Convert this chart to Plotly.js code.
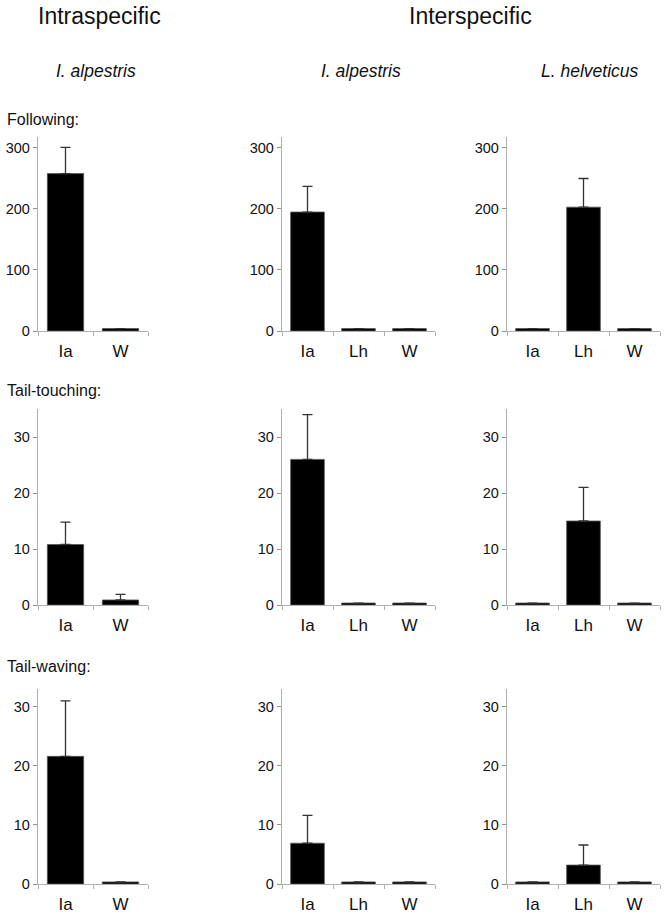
<!DOCTYPE html>
<html>
<head>
<meta charset="utf-8">
<script src="https://cdn.plot.ly/plotly-3.0.1.min.js"></script>
<style>html,body{margin:0;padding:0;background:#fff;} #chart{width:668px;height:915px;}</style>
</head>
<body>
<div id="chart"></div>
<script>
// ---- data ----
const catsIntra = ['Ia', 'W'];
const catsInter = ['Ia', 'Lh', 'W'];

const followingIntra = [258, 4];
const followingIntraErr = [43, 0];
const followingInterIa = [195, 4, 4];
const followingInterIaErr = [42, 0, 0];
const followingInterLh = [4, 203, 4];
const followingInterLhErr = [0, 47, 0];

const touchingIntra = [10.8, 0.9];
const touchingIntraErr = [4, 1.0];
const touchingInterIa = [26, 0.35, 0.35];
const touchingInterIaErr = [8, 0, 0];
const touchingInterLh = [0.35, 15, 0.35];
const touchingInterLhErr = [0, 6, 0];

const wavingIntra = [21.6, 0.35];
const wavingIntraErr = [9.4, 0];
const wavingInterIa = [6.9, 0.35, 0.35];
const wavingInterIaErr = [4.7, 0, 0];
const wavingInterLh = [0.35, 3.2, 0.35];
const wavingInterLhErr = [0, 3.4, 0];

const rowRanges = [[0, 318], [0, 35], [0, 33]];
const rowDticks = [100, 10, 10];
const rowLabels = ['Following:', 'Tail-touching:', 'Tail-waving:'];
const colTitles = ['I. alpestris', 'I. alpestris', 'L. helveticus'];
const groupTitles = ['Intraspecific', 'Interspecific'];

// ---- layout geometry (pixels) ----
const W = 668, H = 915;
const colPx = [[38, 148], [282, 435], [507, 660]];
const rowPx = [[137, 331], [409, 605], [689, 884]];

const panels = [
  [catsIntra, followingIntra, followingIntraErr],
  [catsInter, followingInterIa, followingInterIaErr],
  [catsInter, followingInterLh, followingInterLhErr],
  [catsIntra, touchingIntra, touchingIntraErr],
  [catsInter, touchingInterIa, touchingInterIaErr],
  [catsInter, touchingInterLh, touchingInterLhErr],
  [catsIntra, wavingIntra, wavingIntraErr],
  [catsInter, wavingInterIa, wavingInterIaErr],
  [catsInter, wavingInterLh, wavingInterLhErr]
];

const font = 'Liberation Sans, Arial, sans-serif';
const traces = [];
const layout = {
  width: W, height: H,
  margin: {l: 0, r: 0, t: 0, b: 0},
  paper_bgcolor: '#fff', plot_bgcolor: '#fff',
  showlegend: false,
  font: {family: font, color: '#111'},
  bargap: 0.34,
  annotations: []
};

panels.forEach((p, i) => {
  const r = Math.floor(i / 3), c = i % 3;
  const n = i + 1;
  const xa = 'x' + (n === 1 ? '' : n), ya = 'y' + (n === 1 ? '' : n);
  traces.push({
    type: 'bar', x: p[0], y: p[1],
    xaxis: xa, yaxis: ya,
    marker: {color: '#000', line: {color: '#555', width: 0.8}},
    width: 0.66,
    error_y: {type: 'data', array: p[2], arrayminus: p[2].map(() => 0), symmetric: false,
      color: '#333', thickness: 1.3, width: 5},
    hoverinfo: 'none'
  });
  const xkey = 'xaxis' + (n === 1 ? '' : n), ykey = 'yaxis' + (n === 1 ? '' : n);
  layout[xkey] = {
    domain: [colPx[c][0] / W, colPx[c][1] / W],
    anchor: ya, type: 'category',
    showline: true, linecolor: '#b0b0b0', linewidth: 1,
    ticks: 'outside', tickson: 'boundaries', ticklen: 4, tickcolor: '#b0b0b0',
    ticklabelstandoff: 5,
    showgrid: false, zeroline: false, fixedrange: true,
    tickfont: {size: 17, color: '#111', family: font}
  };
  layout[ykey] = {
    domain: [1 - rowPx[r][1] / H, 1 - rowPx[r][0] / H],
    anchor: xa, range: rowRanges[r], dtick: rowDticks[r],
    showline: true, linecolor: '#b0b0b0', linewidth: 1.2,
    ticks: 'outside', ticklen: 4, tickcolor: '#909090',
    showgrid: false, zeroline: false, fixedrange: true,
    tickfont: {size: 14.5, color: '#111', family: font}
  };
});

// group titles
[[99, 16], [470, 16]].forEach((pos, k) => {
  layout.annotations.push({text: groupTitles[k], xref: 'paper', yref: 'paper',
    x: pos[0] / W, y: 1 - pos[1] / H, xanchor: 'center', yanchor: 'middle',
    showarrow: false, font: {size: 23, color: '#111', family: font}});
});
// column titles
[96, 361, 590].forEach((px, k) => {
  layout.annotations.push({text: '<i>' + colTitles[k] + '</i>', xref: 'paper', yref: 'paper',
    x: px / W, y: 1 - 71 / H, xanchor: 'center', yanchor: 'middle',
    showarrow: false, font: {size: 17.5, color: '#111', family: font}});
});
// row labels
[119, 390, 666].forEach((py, k) => {
  layout.annotations.push({text: rowLabels[k], xref: 'paper', yref: 'paper',
    x: 5 / W, y: 1 - py / H, xanchor: 'left', yanchor: 'middle',
    showarrow: false, font: {size: 16, color: '#111', family: font}});
});

Plotly.newPlot('chart', traces, layout, {staticPlot: true, displayModeBar: false});
</script>
</body>
</html>
